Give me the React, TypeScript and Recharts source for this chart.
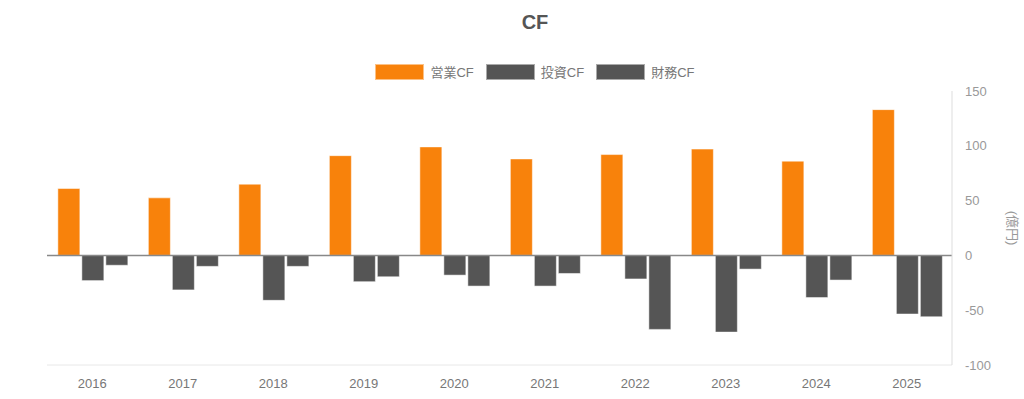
import React from "react";
import {
  BarChart,
  Bar,
  XAxis,
  YAxis,
  ReferenceLine,
} from "recharts";

const YEARS = ["2016", "2017", "2018", "2019", "2020", "2021", "2022", "2023", "2024", "2025"];
const OPERATING = [61, 52.5, 65, 91, 99, 88, 92, 97, 86, 133];
const INVESTING = [-23, -31.5, -41, -24, -18, -28, -21.5, -70, -38.5, -53.5];
const FINANCING = [-9, -10, -10, -19.5, -28, -16.5, -67.5, -12.5, -22.5, -56];
const Y_TICKS = [-100, -50, 0, 50, 100, 150];

const ORANGE = "#f8820b";
const GREY = "#555555";
const FONT = '"Liberation Sans", Arial, "Noto Sans CJK JP", sans-serif';

const data = YEARS.map((year, i) => ({
  year,
  operating: OPERATING[i],
  investing: INVESTING[i],
  financing: FINANCING[i],
}));

const legendItems = [
  { label: "営業CF", color: ORANGE },
  { label: "投資CF", color: GREY },
  { label: "財務CF", color: GREY },
];

function LegendContent() {
  return (
    <div
      style={{
        position: "absolute",
        top: 62,
        left: 0,
        width: 1070,
        display: "flex",
        justifyContent: "center",
        gap: 12,
        fontFamily: FONT,
      }}
    >
      {legendItems.map((item) => (
        <div key={item.label} style={{ display: "flex", alignItems: "center" }}>
          <div
            style={{
              width: 47,
              height: 14,
              background: item.color,
              border: "1px solid rgba(255,255,255,0.5)",
              marginRight: 6,
            }}
          />
          <span style={{ fontSize: 13, color: "#777" }}>{item.label}</span>
        </div>
      ))}
    </div>
  );
}

function UnitLabel() {
  const x = 1012;
  const y = 228;
  return (
    <text
      x={x}
      y={y}
      transform={`rotate(90, ${x}, ${y})`}
      textAnchor="middle"
      dominantBaseline="central"
      fill="#999"
      fontSize={13}
      fontFamily={FONT}
    >
      (億円)
    </text>
  );
}

export default function App() {
  return (
    <div style={{ position: "absolute", left: 0, top: 0, width: 1024, height: 399, background: "#fff" }}>
      <BarChart
        width={1024}
        height={399}
        data={data}
        margin={{ top: 91, right: 22, left: 47, bottom: 4 }}
        barCategoryGap="12%"
        barGap={2}
        style={{ fontFamily: FONT }}
      >
        <XAxis
          dataKey="year"
          axisLine={{ stroke: "#e8e8e8" }}
          tickLine={false}
          tickMargin={8}
          tick={{ fill: "#777", fontSize: 13 }}
          height={30}
        />
        <YAxis
          orientation="right"
          domain={[-100, 150]}
          ticks={Y_TICKS}
          axisLine={{ stroke: "#dddddd" }}
          tickLine={false}
          tickMargin={7}
          tick={{ fill: "#999", fontSize: 13, textAnchor: "start" }}
          width={50}
          label={<UnitLabel />}
        />
        <ReferenceLine y={0} stroke="#888" strokeWidth={1.5} />
        <Bar dataKey="operating" fill={ORANGE} stroke="rgba(255,255,255,0.5)" isAnimationActive={false} />
        <Bar dataKey="investing" fill={GREY} stroke="rgba(255,255,255,0.5)" isAnimationActive={false} />
        <Bar dataKey="financing" fill={GREY} stroke="rgba(255,255,255,0.5)" isAnimationActive={false} />
      </BarChart>
      <div
        style={{
          position: "absolute",
          top: 11,
          left: 0,
          width: 1070,
          textAlign: "center",
          fontFamily: FONT,
          fontWeight: "bold",
          fontSize: 20,
          color: "#555",
        }}
      >
        CF
      </div>
      <LegendContent />
    </div>
  );
}
